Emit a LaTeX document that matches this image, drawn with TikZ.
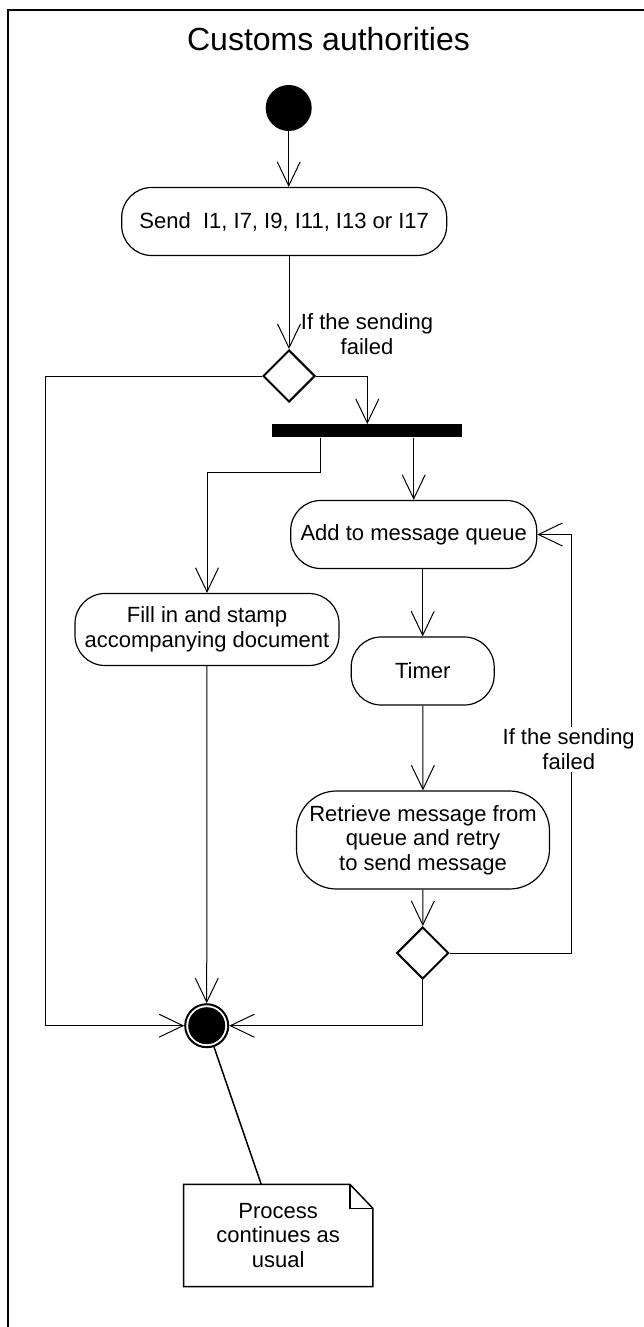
\documentclass[tikz,border=0pt]{standalone}
\usepackage{fontspec}
\setmainfont{Liberation Sans}
\usetikzlibrary{shapes.geometric,arrows.meta}

\begin{document}
\begin{tikzpicture}
[
  x=1pt, y=-1pt,
  every node/.style={font=\fontsize{22}{24.5}\selectfont},
  activity/.style={draw, line width=1.2pt, rounded corners=30pt, align=center, inner sep=0pt},
  decision/.style={draw, diamond, line width=2pt, minimum width=52pt, minimum height=52pt, inner sep=0pt},
  forkbar/.style={fill=black, minimum width=190pt, minimum height=13pt, inner sep=0pt},
  startnode/.style={circle, fill=black, minimum size=46pt, inner sep=0pt},
  endnode/.style={circle, draw, line width=2pt, minimum size=43pt, inner sep=0pt,
    path picture={\fill (path picture bounding box.center) circle (18.5pt);}},
  guard/.style={align=center, inner sep=2pt},
  note/.style={align=center, inner sep=0pt, minimum width=189pt, minimum height=102pt},
  arr/.style={line width=1pt, -{Straight Barb[length=24pt,width=23pt]}}
]

\useasboundingbox (0,0) rectangle (644,1327);

% frame
\draw[line width=2pt] (8.3,1327) -- (8.3,10) -- (644,10);
\node[font=\fontsize{32}{38}\selectfont, anchor=base] (title) at (328.5,51) {Customs authorities};

\node[startnode] (start) at (288.7,108) {};
\node[activity, minimum width=325pt, minimum height=68pt] (send) at (284.2,221.5) {Send~ I1, I7, I9, I11, I13 or I17};
\node[decision] (dec1) at (289,376) {};
\node[guard] (guard1) at (367,334.3) {If the sending\\failed};
\node[forkbar] (bar) at (367.3,430.8) {};

\node[activity, minimum width=264pt, minimum height=72pt] (fill) at (207,629.5) {Fill in and stamp\\accompanying document};
\node[activity, minimum width=246pt, minimum height=68pt] (addq) at (413.7,534.5) {Add to message queue};
\node[activity, minimum width=143pt, minimum height=68pt] (timer) at (422.7,671) {Timer};
\node[activity, rounded corners=40pt, minimum width=253pt, minimum height=98pt] (retr) at (423,840) {Retrieve message from\\queue and retry\\to send message};
\node[decision] (dec2) at (422.7,953) {};

\node[endnode] (final) at (206.7,1025.7) {};
\node[note] (note) at (278.2,1235.5) {Process\\continues as\\usual};

\coordinate (lftrail) at (45.7,0);
\coordinate (rgtrail) at (571,0);

\path[arr]
(start) edge (start |- send.north)
(send.south -| dec1.north) edge (dec1.north)
(addq.north |- bar.south) edge (addq.north)
(addq.south -| timer.north) edge (timer.north)
(timer) edge (retr)
(retr) edge (dec2)
(fill) edge (final);

\draw[arr] (dec1.east) -| (bar.north);
\draw[arr] (dec1.west) -- (dec1.west -| lftrail) |- (final.west);
\draw[arr] ([xshift=-47pt]bar.south) -- ++(0,35.4) -| (fill.north);
\draw[arr] (dec2.south) |- (final.east);
\draw[arr] (dec2.east) -- (dec2.east -| rgtrail) |- (addq.east);
\node[guard, fill=white] (guard2) at (568.7,749.3) {If the sending\\failed};

% note with folded corner
\draw[line width=1.5pt] (note.north west) -- ([xshift=-23pt]note.north east) -- ([yshift=-24pt]note.north east)
  -- (note.south east) -- (note.south west) -- cycle;
\draw[line width=1.5pt] ([xshift=-23pt]note.north east) |- ([yshift=-24pt]note.north east);
\draw[line width=1.5pt] (final) -- ([xshift=-17pt]note.north);

\end{tikzpicture}
\end{document}
